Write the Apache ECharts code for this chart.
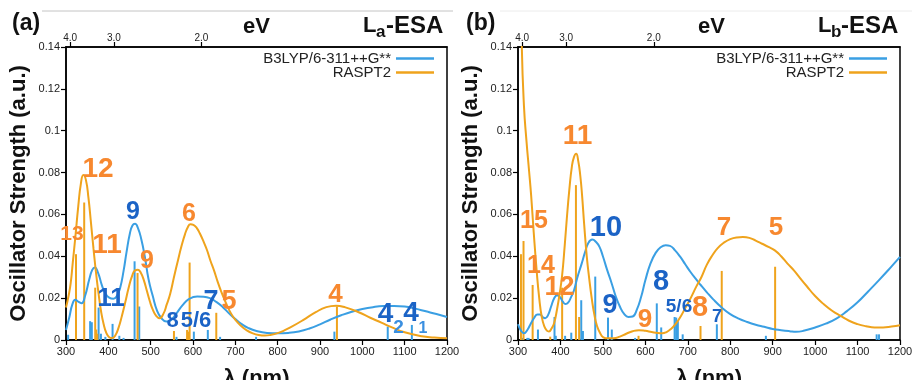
<!DOCTYPE html>
<html><head><meta charset="utf-8">
<script src="https://cdn.jsdelivr.net/npm/echarts@6/dist/echarts.min.js"></script>
<style>html,body{margin:0;padding:0;background:#fff}#c{width:912px;height:380px}</style>
</head><body><div id="c"></div>
<script>
// ---------- DATA ----------
const xTickValues = [300,400,500,600,700,800,900,1000,1100,1200];
const yTickValues = [0,0.02,0.04,0.06,0.08,0.1,0.12,0.14];
const evTickLabels = ['4.0','3.0','2.0'];
const seriesNames = ['B3LYP/6-311++G**','RASPT2'];
const panelTitles = ['(a)','(b)'];
const panelNames = [['L','a','-ESA'],['L','b','-ESA']];

// Panel (a) La-ESA: broadened spectra [wavelength nm, oscillator strength]
const laB3lypCurve = [[300,0.0048],[308,0.011],[315,0.017],[322,0.0192],[330,0.0182],[337,0.0176],[345,0.021],[355,0.029],[362,0.0335],[368,0.0347],[376,0.032],[385,0.026],[393,0.0222],[402,0.0202],[412,0.0197],[420,0.021],[428,0.025],[436,0.033],[443,0.042],[451,0.051],[457,0.0547],[463,0.0555],[470,0.0535],[478,0.048],[486,0.04],[495,0.029],[505,0.021],[515,0.014],[525,0.0105],[537,0.0088],[548,0.0095],[560,0.0125],[575,0.0165],[590,0.0195],[610,0.0208],[625,0.0207],[640,0.0200],[655,0.0182],[670,0.0158],[685,0.0128],[700,0.0100],[715,0.0076],[730,0.0058],[750,0.0043],[775,0.0034],[800,0.0032],[825,0.0034],[850,0.0041],[875,0.0055],[900,0.0075],[925,0.0098],[950,0.0118],[975,0.0135],[1000,0.0148],[1025,0.0157],[1050,0.0162],[1075,0.0163],[1100,0.016],[1125,0.015],[1150,0.0137],[1175,0.0124],[1200,0.011]];
const laRaspt2Curve = [[300,0.0155],[306,0.021],[311,0.027],[316,0.037],[322,0.049],[329,0.064],[335,0.0745],[341,0.0788],[347,0.0765],[353,0.068],[359,0.056],[365,0.0435],[371,0.032],[377,0.022],[383,0.0135],[389,0.0075],[395,0.0035],[402,0.0013],[409,0.0009],[416,0.002],[424,0.0058],[432,0.0115],[440,0.018],[448,0.025],[456,0.0305],[463,0.0333],[470,0.0336],[477,0.032],[484,0.0285],[491,0.0235],[498,0.0185],[505,0.0145],[513,0.0115],[521,0.0104],[530,0.0125],[538,0.017],[546,0.022],[555,0.030],[565,0.0385],[573,0.045],[581,0.0505],[588,0.054],[594,0.0553],[601,0.055],[609,0.0535],[616,0.051],[625,0.047],[633,0.043],[641,0.038],[650,0.033],[658,0.028],[666,0.0235],[675,0.019],[685,0.0145],[695,0.011],[705,0.0085],[716,0.0063],[728,0.0045],[740,0.0033],[755,0.0024],[770,0.0021],[785,0.0025],[800,0.0033],[815,0.0045],[830,0.006],[860,0.0095],[890,0.0133],[915,0.0157],[938,0.0164],[960,0.0156],[990,0.0134],[1020,0.0105],[1045,0.0083],[1070,0.006],[1100,0.0037],[1140,0.0018],[1170,0.0012],[1200,0.0008]];
// stick spectra
const laB3lypSticks = [[305,0.0025],[357,0.009],[361,0.0085],[377,0.0155],[382.5,0.003],[393,0.0015],[410,0.0077],[426,0.002],[436,0.001],[462,0.0376],[473,0.016],[561,0.0015],[602,0.004],[635,0.0048],[664,0.0015],[749,0.0015],[934,0.004],[1060,0.0064],[1117,0.0072]];
const laRaspt2Sticks = [[323.6,0.041],[343,0.0657],[369,0.025],[371.5,0.005],[374,0.003],[469,0.032],[555,0.0043],[586,0.0048],[589,0.004],[592,0.037],[655,0.013],[940,0.016]];
// state labels [wavelength, strength, text, method index]
const laLabels = [[375.6,0.0817,'12',1],[314,0.0504,'13',1],[396.9,0.0454,'11',1],[458,0.0612,'9',0],[491,0.0377,'9',1],[406,0.0196,'11',0],[590.6,0.0602,'6',1],[551.6,0.0091,'8',0],[607,0.0091,'5/6',0],[642.5,0.0182,'7',0],[685,0.0182,'5',1],[936.6,0.0217,'4',1],[1054.8,0.0124,'4',0],[1085.5,0.0057,'2',0],[1115,0.0129,'4',0],[1143,0.0053,'1',0]];
const laLabelSizes = [28,21,28,25,25,26,25,22,22,27,27,26,28,19,28,16];

// Panel (b) Lb-ESA
const lbB3lypCurve = [[300,0.0075],[307,0.0045],[314,0.0032],[322,0.0048],[330,0.0078],[338,0.0105],[346,0.0122],[352,0.0122],[358,0.011],[364,0.0104],[371,0.012],[378,0.016],[385,0.0198],[392,0.0214],[399,0.0205],[406,0.0182],[412,0.0172],[418,0.0178],[425,0.0205],[432,0.0238],[440,0.030],[450,0.0365],[458,0.042],[466,0.0465],[475,0.048],[484,0.0468],[492,0.0445],[500,0.040],[510,0.0335],[520,0.0275],[530,0.021],[540,0.016],[550,0.0125],[560,0.011],[570,0.0112],[580,0.0145],[590,0.0205],[600,0.0285],[612,0.0365],[624,0.0415],[636,0.0443],[648,0.0453],[658,0.045],[670,0.0428],[682,0.0398],[694,0.0362],[706,0.0326],[718,0.0294],[730,0.0264],[745,0.0228],[760,0.0194],[780,0.0155],[800,0.0124],[820,0.0102],[840,0.0086],[860,0.0073],[880,0.0063],[900,0.0053],[920,0.0047],[940,0.0042],[955,0.0039],[975,0.0045],[1000,0.006],[1025,0.0078],[1050,0.0102],[1075,0.0138],[1100,0.018],[1125,0.0232],[1150,0.0285],[1175,0.034],[1200,0.0397]];
const lbRaspt2Curve = [[300,0.30],[304,0.21],[309,0.14],[314,0.112],[320,0.095],[326,0.081],[331,0.069],[337,0.0515],[344,0.033],[350,0.02],[356,0.011],[362,0.0065],[368,0.0045],[373,0.0041],[379,0.0055],[385,0.008],[392,0.0147],[398,0.022],[404,0.031],[410,0.045],[415,0.058],[421,0.072],[427,0.083],[432,0.0875],[437,0.089],[442,0.0855],[447,0.078],[451,0.069],[456,0.055],[462,0.040],[468,0.029],[474,0.0195],[480,0.012],[486,0.0068],[493,0.0035],[501,0.0013],[512,0.0008],[525,0.0008],[540,0.0016],[555,0.003],[570,0.0042],[585,0.0047],[600,0.0044],[615,0.0038],[630,0.0033],[640,0.0032],[650,0.0038],[660,0.0052],[672,0.0078],[684,0.0115],[696,0.016],[708,0.0205],[720,0.0255],[732,0.030],[745,0.036],[758,0.0405],[770,0.0438],[785,0.0465],[800,0.0482],[815,0.049],[830,0.0492],[845,0.0488],[860,0.0475],[875,0.046],[890,0.0445],[905,0.0428],[920,0.040],[935,0.0365],[950,0.0333],[965,0.0295],[980,0.0258],[1000,0.021],[1020,0.0172],[1040,0.014],[1060,0.0115],[1080,0.0092],[1100,0.0076],[1120,0.0066],[1140,0.006],[1160,0.006],[1180,0.0064],[1200,0.007]];
const lbB3lypSticks = [[309.5,0.001],[322,0.001],[325,0.001],[347,0.005],[386,0.011],[389,0.002],[411,0.002],[425.5,0.0035],[449,0.019],[453,0.0043],[482,0.0303],[512,0.0107],[521,0.005],[576,0.001],[627,0.0175],[637.4,0.006],[669,0.011],[672.7,0.0107],[676.6,0.009],[688,0.0027],[768.5,0.0075],[884,0.002],[1145,0.0027],[1150.6,0.0027]];
const lbRaspt2Sticks = [[307,0.041],[313,0.0473],[334.5,0.0263],[376,0.0016],[404,0.025],[436.5,0.074],[444,0.011],[584,0.002],[730,0.0067],[780,0.033],[905.8,0.035]];
const lbLabels = [[337.7,0.0569,'15',1],[354.2,0.0354,'14',1],[397.8,0.0253,'12',1],[440.2,0.0975,'11',1],[507.3,0.0535,'10',0],[516.8,0.0167,'9',0],[599.2,0.0098,'9',1],[636.9,0.0277,'8',0],[679.3,0.0158,'5/6',0],[728.8,0.0151,'8',1],[768.9,0.0112,'7',0],[785.3,0.0535,'7',1],[907.9,0.0535,'5',1]];
const lbLabelSizes = [25,25,27,28,29,27,26,29,19,29,18,26,26];

// ---------- STYLE ----------
const FONT = '"Liberation Sans", Arial, Helvetica, sans-serif';
const lineColors = ['#3a9fe3','#efa31c'];
const textColors = ['#1b63c6','#f7882f'];
const grids = [{left:66, top:47, width:381, height:293}, {left:518, top:47, width:382, height:293}];

const chart = echarts.init(document.getElementById('c'), null, {renderer:'canvas'});
const evValues = evTickLabels.map(s => 1239.84 / parseFloat(s));

const xAxes = [], yAxes = [], series = [], legends = [];
const panels = [
  {curves:[laB3lypCurve, laRaspt2Curve], sticks:[laB3lypSticks, laRaspt2Sticks], labels:laLabels, sizes:laLabelSizes},
  {curves:[lbB3lypCurve, lbRaspt2Curve], sticks:[lbB3lypSticks, lbRaspt2Sticks], labels:lbLabels, sizes:lbLabelSizes}
];
const legendRight = [478, 25];

panels.forEach((p, gi) => {
  xAxes.push({
    gridIndex: gi, type:'value', min:300, max:1200, interval:100, position:'bottom',
    name:'λ (nm)', nameLocation:'middle', nameGap:28,
    nameTextStyle:{fontFamily:FONT, fontSize:22, fontWeight:'bold', color:'#111'},
    axisLine:{show:true, onZero:false, lineStyle:{color:'#000', width:1.5}},
    axisTick:{show:true, inside:false, length:5, lineStyle:{color:'#000', width:1.2}},
    axisLabel:{fontFamily:FONT, fontSize:11, color:'#222', margin:6, showMinLabel:true, showMaxLabel:true,
      formatter: v => String(v)},
    splitLine:{show:false}
  });
  xAxes.push({
    gridIndex: gi, type:'value', min:300, max:1200, position:'top',
    axisLine:{show:true, onZero:false, lineStyle:{color:'#000', width:1.5}},
    axisTick:{show:true, inside:false, length:5, customValues: evValues, lineStyle:{color:'#000', width:1.2}},
    axisLabel:{fontFamily:FONT, fontSize:10, color:'#222', margin:4, customValues: evValues,
      formatter: v => (1239.84 / v).toFixed(1)},
    splitLine:{show:false}
  });
  yAxes.push({
    gridIndex: gi, type:'value', min:0, max:0.14, interval:0.02,
    name:'Oscillator Strength (a.u.)', nameLocation:'middle', nameGap:36,
    nameTextStyle:{fontFamily:FONT, fontSize:22, fontWeight:'bold', color:'#111'},
    axisLine:{show:true, lineStyle:{color:'#000', width:1.5}},
    axisTick:{show:true, inside:false, length:5, lineStyle:{color:'#000', width:1.2}},
    axisLabel:{fontFamily:FONT, fontSize:11, color:'#222', margin:6},
    splitLine:{show:false}
  });
  const xi = gi * 2, yi = gi;
  // sticks
  p.sticks.forEach((st, mi) => {
    series.push({
      type:'custom', xAxisIndex:xi, yAxisIndex:yi, silent:true, z:2, clip:true,
      data: st, encode:{x:0, y:1},
      renderItem:(params, api) => {
        const a = api.coord([api.value(0), 0]);
        const b = api.coord([api.value(0), api.value(1)]);
        return {type:'line', shape:{x1:a[0], y1:a[1], x2:b[0], y2:b[1]},
          style:{stroke: lineColors[mi], lineWidth:2}};
      }
    });
  });
  // curves
  p.curves.forEach((cv, mi) => {
    series.push({
      type:'line', name: seriesNames[mi], xAxisIndex:xi, yAxisIndex:yi,
      data: cv, smooth:0.5, symbol:'none', showSymbol:false, clip:true, z:3, silent:true,
      lineStyle:{color: lineColors[mi], width:2}, itemStyle:{color: lineColors[mi]}
    });
  });
  // state labels
  series.push({
    type:'scatter', xAxisIndex:xi, yAxisIndex:yi, symbolSize:0, silent:true, z:5,
    itemStyle:{opacity:1},
    data: p.labels.map((l, i) => ({
      value:[l[0], l[1]],
      label:{show:true, position:'inside', formatter: l[2], fontFamily:FONT, fontWeight:'bold', opacity:1,
        fontSize: p.sizes[i], color: (l[2] === '1' || l[2] === '2') && l[3] === 0 ? '#3a8fe0' : textColors[l[3]]}
    }))
  });
  seriesNames.forEach((nm, mi) => {
    legends.push({
      data:[nm], orient:'vertical', align:'right', right: legendRight[gi], top: 51 + mi * 14,
      padding:0, itemWidth:38, itemHeight:2.5, icon:'rect', selectedMode:false,
      textStyle:{fontFamily:FONT, fontSize:15, color:'#222', lineHeight:14}
    });
  });
});

const graphic = [
  {type:'line', shape:{x1:42, y1:11, x2:453, y2:11}, style:{stroke:'#c4c4c4', lineWidth:1}},
  {type:'line', shape:{x1:500, y1:11, x2:912, y2:11}, style:{stroke:'#ececec', lineWidth:1}}
];
[12, 466].forEach((x, i) => {
  graphic.push({type:'text', left:x, top:12, style:{text: panelTitles[i], font:'bold 23px ' + FONT, fill:'#111'}});
});
[243, 698].forEach((x) => {
  graphic.push({type:'text', left:x, top:16, style:{text:'eV', font:'bold 22px ' + FONT, fill:'#111'}});
});
[363, 818].forEach((x, i) => {
  const nm = panelNames[i];
  graphic.push({type:'text', left:x, top:15, style:{text:nm[0], font:'bold 22px ' + FONT, fill:'#111'}});
  graphic.push({type:'text', left:x + 13, top:24, style:{text:nm[1], font:'bold 17px ' + FONT, fill:'#111'}});
  graphic.push({type:'text', left:x + 23, top:14, style:{text:nm[2], font:'bold 24px ' + FONT, fill:'#111'}});
});

chart.setOption({
  backgroundColor:'#fff',
  animation:false,
  textStyle:{fontFamily:FONT},
  grid: grids.map(g => Object.assign({show:true, borderColor:'#000', borderWidth:1.5, backgroundColor:'transparent', outerBoundsMode:'none', containLabel:false}, g)),
  xAxis: xAxes, yAxis: yAxes, series, legend: legends, graphic
});
</script></body></html>
